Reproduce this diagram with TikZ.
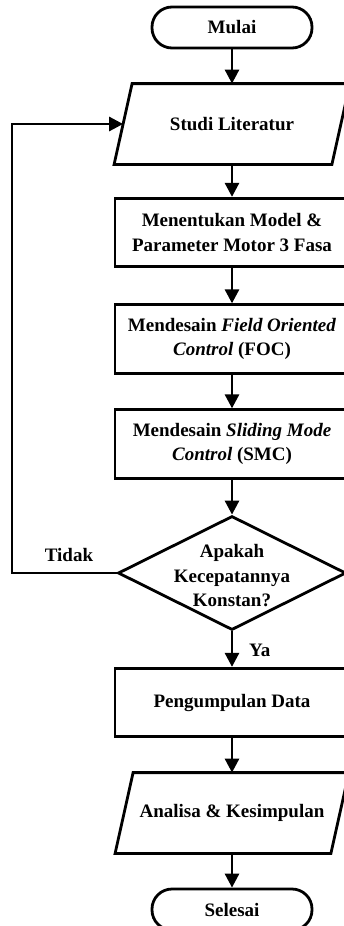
\documentclass[tikz,border=0pt]{standalone}
\usepackage{fontspec}
\setmainfont{Liberation Serif}
\usetikzlibrary{shapes.geometric,arrows.meta,calc}
\tikzset{
  base/.style={draw=black, line width=2.8pt, font=\fontsize{19}{24.5}\selectfont\bfseries, align=center, inner sep=2pt},
  term/.style={base, rectangle, rounded corners=20pt, minimum width=160pt, minimum height=41pt},
  proc/.style={base, rectangle, minimum width=234pt, minimum height=68.5pt},
  io/.style={base, draw=none, rectangle, minimum width=233pt, minimum height=78pt},
  dec/.style={draw=black, line width=2.8pt, diamond, minimum width=228pt, minimum height=114pt, inner sep=0pt},
  txt/.style={font=\fontsize{19}{24.5}\selectfont\bfseries, align=center, inner sep=0pt},
  arr/.style={line width=2.8pt, -{Triangle[length=14pt,width=14pt]}},
  ln/.style={line width=2.8pt, line join=miter}
}
\begin{document}
\begin{tikzpicture}[x=1pt,y=-1pt]
\useasboundingbox (0,0) rectangle (344,926);
\node[term] (mulai) at (232,27.5) {Mulai};
\node[io] (studi) at (232,124) {Studi Literatur};
\node[proc] (model) at (232,232.5) {Menentukan Model \&\\Parameter Motor 3 Fasa};
\node[proc] (foc) at (232,339) {Mendesain \textit{Field Oriented}\\\textit{Control} (FOC)};
\node[proc] (smc) at (232,444) {Mendesain \textit{Sliding Mode}\\\textit{Control} (SMC)};
\node[dec] (cek) at (232,573) {};
\node[txt] (cektxt) at (232,576) {Apakah\\Kecepatannya\\Konstan?};
\node[proc] (data) at (232,702.5) {Pengumpulan Data};
\node[io, minimum width=231pt] (analisa) at (232,813) {Analisa \& Kesimpulan};
\node[term] (selesai) at (232,909.5) {Selesai};
\node[txt] (tidak) at (69,555) {Tidak};
\node[txt, anchor=west] (ya) at (249,650) {Ya};
\coordinate (loop) at (12,573);
\coordinate (studiin) at ($(studi.west)+(9,0)$);

\draw[ln] (studi.south west) -- ($(studi.south east)+(-18,0)$) -- (studi.north east) -- ($(studi.north west)+(18,0)$) -- cycle;
\draw[ln] (analisa.south west) -- ($(analisa.south east)+(-18,0)$) -- (analisa.north east) -- ($(analisa.north west)+(18,0)$) -- cycle;

\draw[arr] (mulai) -- (studi);
\draw[arr] (studi) -- (model);
\draw[arr] (model) -- (foc);
\draw[arr] (foc) -- (smc);
\draw[arr] (smc) -- (cek);
\draw[arr] (cek) -- (data);
\draw[arr] (data) -- (analisa);
\draw[arr] (analisa) -- (selesai);
\draw[arr] (cek.west) -- (loop) |- (studiin);
\end{tikzpicture}
\end{document}
